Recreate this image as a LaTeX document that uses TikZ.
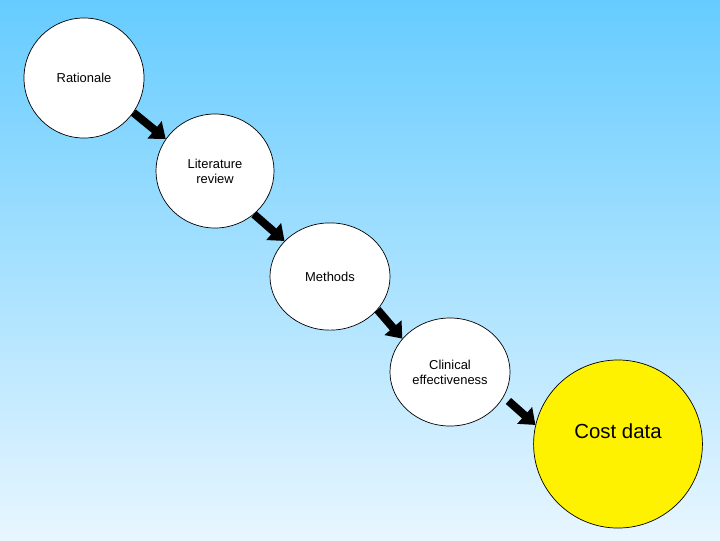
\documentclass[tikz,border=0pt]{standalone}
\usepackage{fontspec}
\setmainfont{Liberation Sans}
\usetikzlibrary{shapes.geometric,arrows.meta}
\definecolor{skytop}{RGB}{102,204,255}
\definecolor{skybottom}{RGB}{232,246,255}
\begin{document}
\begin{tikzpicture}[x=0.025cm,y=-0.025cm,
 stage/.style={ellipse,draw,line width=0.5pt,fill=white,inner sep=0pt,align=center,
   font=\fontsize{9.2}{10.6}\selectfont},
 flow/.style={line width=0.2cm,-{Triangle[length=0.36cm,width=0.54cm]}}]
\shade[top color=skytop,bottom color=skybottom] (0,0) rectangle (720,540);
\useasboundingbox (0,0) rectangle (720,540);
\node [stage,minimum width=3cm,minimum height=3cm] (rat) at (84,78) {Rationale};
\node [stage,minimum width=2.95cm,minimum height=2.85cm] (lit) at (215,171) {Literature\\review};
\node [stage,minimum width=3cm,minimum height=2.68cm] (met) at (330,276.5) {Methods};
\node [stage,minimum width=3cm,minimum height=2.7cm] (cli) at (450,372) {Clinical\\effectiveness};
\node [stage,fill=yellow,minimum width=4.22cm,minimum height=4.2cm,
  font=\fontsize{14.5}{17}\selectfont,text depth=0.62cm] (cost) at (618,444) {Cost data};
\draw [flow] (rat.-35) -- (lit.147);
\draw [flow] (lit.-48) -- (met.142);
\draw [flow] (met.-35) -- (cli.145);
\draw [flow] ([shift={(-27,-24)}]cost.167) -- (cost.167);
\end{tikzpicture}
\end{document}
